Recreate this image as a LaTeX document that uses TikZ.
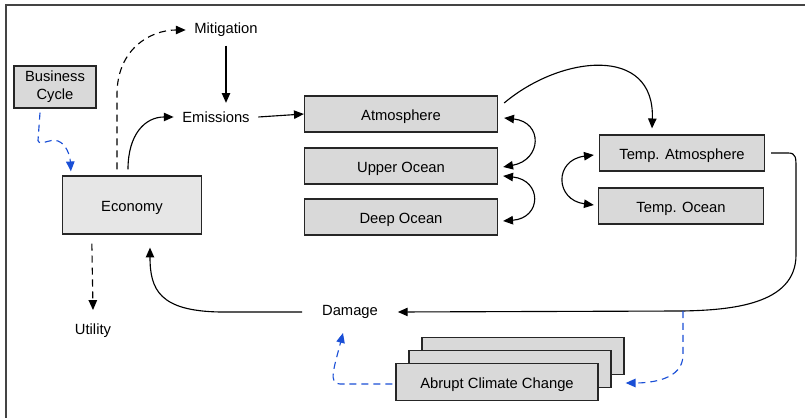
\documentclass[tikz,border=0pt]{standalone}
\usepackage{fontspec}
\setmainfont{Liberation Sans}
\usetikzlibrary{calc,arrows.meta}
\definecolor{BoxGray}{HTML}{D9D9D9}
\definecolor{EconGray}{HTML}{E6E6E6}
\definecolor{CycleBlue}{HTML}{1A4FD6}
\definecolor{FrameGray}{HTML}{444444}

\begin{document}
\begin{tikzpicture}[
    x=0.025cm, y=-0.025cm,
    every node/.style={font=\fontsize{10.5}{12}\selectfont},
    graybox/.style={draw=black!85,fill=BoxGray,line width=0.9pt,inner sep=2pt,text height=1.0em,text depth=0.08em,minimum width=4.825cm,minimum height=0.9cm},
    tempbox/.style={graybox,minimum width=4.125cm},
    econbox/.style={graybox,fill=EconGray,minimum width=3.475cm,minimum height=1.45cm},
    cyclebox/.style={draw=black!85,fill=BoxGray,line width=0.9pt,inner sep=2pt,minimum width=2.05cm,minimum height=1.05cm,align=center,font=\fontsize{10.5}{13}\selectfont},
    abruptbox/.style={graybox,minimum width=5.05cm,minimum height=0.925cm},
    plainlabel/.style={inner sep=6pt},
    arrow/.style={-{Triangle[length=7pt,width=6pt]},line width=0.8pt},
    dasharrow/.style={arrow,dash pattern=on 5pt off 3.5pt},
    bluearrow/.style={arrow,dash pattern=on 5pt off 3.5pt,color=CycleBlue},
    twoway/.style={{Triangle[length=7pt,width=6pt]}-{Triangle[length=7pt,width=6pt]},line width=0.8pt}
]
  \useasboundingbox (0,0) rectangle (805,418);
  \draw[line width=1.4pt,FrameGray] (6,418) -- (6,5) -- (805,5);

  % boxes and labels
  \node[cyclebox] (cycle) at (55,87) {Business\\Cycle};
  \node[econbox] (econ) at (132,205) {Economy};
  \node[plainlabel] (mitig) at (226,30) {Mitigation};
  \node[plainlabel] (emis) at (216,117) {Emissions};
  \node[graybox] (atm) at (401,114) {Atmosphere};
  \node[graybox] (upper) at (401,166) {Upper Ocean};
  \node[graybox] (deep) at (401,217) {Deep Ocean};
  \node[tempbox] (tatm) at (682,153) {Temp. Atmosphere};
  \node[tempbox] (tocean) at (681,206) {Temp. Ocean};
  \node[plainlabel,inner xsep=14pt] (damage) at (350,312) {Damage};
  \node[plainlabel] (utility) at (93,331) {Utility};
  \node[abruptbox] (abruptback) at (523,356) {};
  \node[abruptbox] (abruptmid) at (510,369) {};
  \node[abruptbox] (abrupt) at (497,382) {Abrupt Climate Change};

  % economy side
  \draw[bluearrow] ($(cycle.south)+(-15,4)$) -- ++(-2,28)
    .. controls +(2,6) and (50,138) .. (58,141)
    .. controls (66,144) and (70,155) .. ($(econ.north west)+(9,-4)$);
  \draw[dasharrow] ($(econ.north)+(-15,-6)$) -- ++(0,-75)
    .. controls +(0,-45) and (150,30) .. (mitig.west);
  \draw[arrow] ($(econ.north)+(-4,-6)$) .. controls +(0,-35) and (145,117) .. (emis.west);
  \draw[arrow] (mitig.south) -- (mitig.south |- emis.north);
  \draw[arrow] (emis.east) -- (atm.west);
  \draw[dasharrow] ($(econ.south west)+(30,9)$) -- ($(utility.center)+(0,-21)$);

  % carbon and temperature
  \draw[arrow] ($(atm.east)+(6,-11)$) .. controls +(57,-48) and (655,45) .. ($(tatm.north)+(-30,-6)$);
  \draw[twoway] ($(atm.east)+(6,4)$) .. controls +(39,4) and (542,160) .. ($(upper.east)+(5,1)$);
  \draw[twoway] ($(upper.east)+(5,10)$) .. controls +(39,4) and (542,218) .. ($(deep.east)+(5,4)$);
  \draw[twoway] ($(tatm.west)+(-5,2)$) .. controls +(-40,5) and (555,200) .. ($(tocean.west)+(-4,-1)$);

  % damages
  \coordinate (tap) at (683,311);
  \draw[arrow] ($(tatm.east)+(6,0)$) -- ++(17,0)
    .. controls +(8,0) and (796,158) .. (796,168) -- (796,255)
    .. controls (796,305) and (730,310) .. (tap) -- (damage.east);
  \draw[arrow] (damage.west) -- (220,312)
    .. controls (160,311) and (150,290) .. ($(econ.south)+(18,13)$);
  \draw[bluearrow] (tap) -- (683,355)
    .. controls (683,380) and (650,383) .. ($(abrupt.east)+(27,1)$);
  \draw[bluearrow] ($(abrupt.west)+(-3,2)$) -- (340,384)
    .. controls (328,384) and (334,368) .. ($(damage.center)+(-7,21)$);
\end{tikzpicture}
\end{document}
